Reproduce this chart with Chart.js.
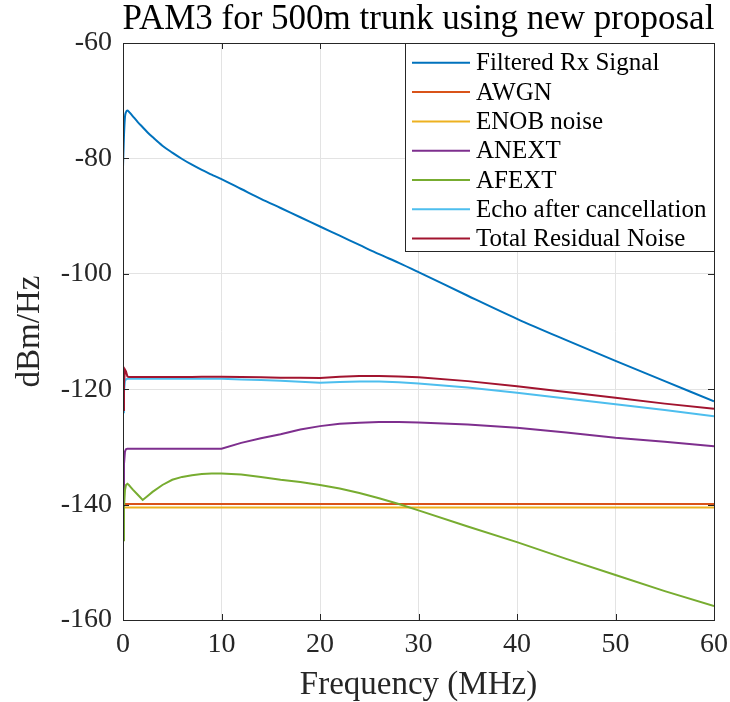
<!DOCTYPE html>
<html>
<head>
<meta charset="utf-8">
<script src="https://cdn.jsdelivr.net/npm/chart.js@4.4.1/dist/chart.umd.min.js"></script>
<style>
  html, body { margin: 0; padding: 0; background: #fff; }
  #wrap { width: 730px; height: 702px; }
</style>
</head>
<body>
<div id="wrap"><canvas id="psd-chart" width="730" height="702"></canvas></div>
<script>
// Frequency grid (MHz) shared by the curved series
const freq = [0, 0.1, 0.2, 0.3, 0.45, 0.6, 0.8, 1, 1.5, 2, 2.5, 3, 4, 5, 6, 7, 8, 9, 10,
    12, 14, 16, 18, 20, 22, 24, 26, 28, 30, 35, 40, 45, 50, 55, 60];

// PSD values in dBm/Hz
const rxSignal = [-81.5, -76.0, -72.8, -72.0, -71.7, -71.9, -72.3, -72.7, -73.7, -74.6, -75.5, -76.3, -77.8, -79.0, -80.1, -81.1, -82.0, -82.8, -83.6,
    -85.3, -87.0, -88.6, -90.2, -91.8, -93.4, -95.0, -96.6, -98.1, -99.7, -103.8, -107.8, -111.5, -115.1, -118.6, -122.1];
const anext = [-138.0, -133.0, -130.8, -130.4, -130.3, -130.3, -130.3, -130.3, -130.3, -130.3, -130.3, -130.3, -130.3, -130.3, -130.3, -130.3, -130.3, -130.3, -130.3,
    -129.3, -128.5, -127.8, -127.0, -126.4, -126.0, -125.8, -125.7, -125.7, -125.75, -126.1, -126.7, -127.5, -128.4, -129.1, -129.9];
const afext = [-146.2, -140.5, -137.5, -136.6, -136.4, -136.6, -137.0, -137.4, -138.3, -139.2, -138.5, -137.8, -136.6, -135.7, -135.2, -134.9, -134.7, -134.6, -134.6,
    -134.8, -135.2, -135.7, -136.1, -136.6, -137.2, -138.0, -138.9, -139.9, -141.0, -143.8, -146.5, -149.4, -152.2, -155.0, -157.6];
const echo = [-124.0, -120.5, -118.6, -118.3, -118.2, -118.2, -118.2, -118.2, -118.2, -118.2, -118.2, -118.2, -118.2, -118.2, -118.2, -118.2, -118.2, -118.2, -118.2,
    -118.3, -118.4, -118.55, -118.7, -118.9, -118.75, -118.65, -118.65, -118.8, -119.0, -119.7, -120.6, -121.6, -122.6, -123.6, -124.7];
const totalNoise = [-123.6, -119.0, -116.6, -116.9, -117.8, -117.9, -117.9, -117.9, -117.9, -117.9, -117.9, -117.9, -117.9, -117.9, -117.9, -117.9, -117.85, -117.85, -117.85,
    -117.9, -117.95, -118.0, -118.0, -118.05, -117.85, -117.7, -117.7, -117.8, -117.95, -118.6, -119.5, -120.5, -121.5, -122.5, -123.4];

// Flat floors only need their end points
const flatFreq = [0, 60];
const awgn = [-139.9, -139.9];
const enob = [-140.5, -140.5];

const seriesNames = ['Filtered Rx Signal', 'AWGN', 'ENOB noise', 'ANEXT', 'AFEXT', 'Echo after cancellation', 'Total Residual Noise'];
const seriesColors = ['#0072BD', '#D95319', '#EDB120', '#7E2F8E', '#77AC30', '#4DBEEE', '#A2142F'];

const xTicks = [0, 10, 20, 30, 40, 50, 60];
const yTicks = [-160, -140, -120, -100, -80, -60];

const SERIF = "'Liberation Serif', 'Times New Roman', serif";
const AXIS_COLOR = '#262626';

function toPoints(xs, ys) {
    return xs.map((x, i) => ({ x: x, y: ys[i] }));
}

const seriesData = [
    toPoints(freq, rxSignal),
    toPoints(flatFreq, awgn),
    toPoints(flatFreq, enob),
    toPoints(freq, anext),
    toPoints(freq, afext),
    toPoints(freq, echo),
    toPoints(freq, totalNoise)
];

// MATLAB-like frame: box, inward ticks, title and legend
const framePlugin = {
    id: 'frame',
    afterDraw(chart) {
        const { ctx, chartArea: a, scales } = chart;
        const xs = scales.x, ys = scales.y;
        const tick = 6;
        ctx.save();
        ctx.strokeStyle = AXIS_COLOR;
        ctx.lineWidth = 1;
        ctx.beginPath();
        xTicks.forEach(v => {
            const px = Math.round(xs.getPixelForValue(v)) + 0.5;
            ctx.moveTo(px, a.bottom); ctx.lineTo(px, a.bottom - tick);
            ctx.moveTo(px, a.top); ctx.lineTo(px, a.top + tick);
        });
        yTicks.forEach(v => {
            const py = Math.round(ys.getPixelForValue(v)) + 0.5;
            ctx.moveTo(a.left, py); ctx.lineTo(a.left + tick, py);
            ctx.moveTo(a.right, py); ctx.lineTo(a.right - tick, py);
        });
        ctx.stroke();
        ctx.strokeRect(Math.round(a.left) + 0.5, Math.round(a.top) + 0.5,
            Math.round(a.right - a.left), Math.round(a.bottom - a.top));

        // title
        ctx.fillStyle = '#000';
        ctx.font = '35px ' + SERIF;
        ctx.textAlign = 'center';
        ctx.textBaseline = 'middle';
        ctx.fillText('PAM3 for 500m trunk using new proposal', (a.left + a.right) / 2, 20);

        // legend box in the upper right corner
        const lx = 405, ly = Math.round(a.top) + 0.5, lw = Math.round(a.right) - lx, lh = 208;
        ctx.fillStyle = '#fff';
        ctx.fillRect(lx, ly, lw, lh);
        ctx.strokeStyle = AXIS_COLOR;
        ctx.strokeRect(lx + 0.5, ly, lw, lh);
        ctx.font = '25px ' + SERIF;
        ctx.textAlign = 'left';
        ctx.textBaseline = 'middle';
        seriesNames.forEach((name, i) => {
            const y = 62.8 + i * 29.3;
            ctx.strokeStyle = seriesColors[i];
            ctx.lineWidth = 2;
            ctx.beginPath();
            ctx.moveTo(412, y);
            ctx.lineTo(470, y);
            ctx.stroke();
            ctx.fillStyle = '#000';
            ctx.fillText(name, 476, y + 1);
        });
        ctx.restore();
    }
};

function getChartConfig() {
    return {
        type: 'line',
        data: {
            datasets: seriesNames.map((name, i) => ({
                label: name,
                data: seriesData[i],
                borderColor: seriesColors[i],
                backgroundColor: seriesColors[i],
                borderWidth: 2,
                pointRadius: 0,
                tension: 0,
                // only the Rx curve is smooth everywhere; the others have real kinks
                cubicInterpolationMode: i === 0 ? 'monotone' : 'default',
                fill: false,
                order: seriesNames.length - i // later series on top, like MATLAB
            }))
        },
        options: {
            responsive: false,
            animation: false,
            layout: { padding: { top: 43, right: 16, left: 0, bottom: 0 } },
            plugins: {
                legend: { display: false },
                title: { display: false },
                tooltip: { enabled: false }
            },
            scales: {
                x: {
                    type: 'linear',
                    min: 0,
                    max: 60,
                    afterFit: (s) => { s.height = 82; s.paddingLeft = 0; s.paddingRight = 0; },
                    afterBuildTicks: (s) => { s.ticks = xTicks.map(v => ({ value: v })); },
                    grid: { color: '#e3e3e3', drawTicks: false },
                    border: { display: false },
                    ticks: { color: AXIS_COLOR, padding: 8, font: { family: SERIF, size: 28 } },
                    title: {
                        display: true,
                        text: 'Frequency (MHz)',
                        color: AXIS_COLOR,
                        padding: 0,
                        font: { family: SERIF, size: 33, lineHeight: 1 }
                    }
                },
                y: {
                    min: -160,
                    max: -60,
                    afterFit: (s) => { s.width = 123; s.paddingTop = 0; s.paddingBottom = 0; },
                    afterBuildTicks: (s) => { s.ticks = yTicks.map(v => ({ value: v })); },
                    grid: { color: '#e3e3e3', drawTicks: false },
                    border: { display: false },
                    ticks: { color: AXIS_COLOR, padding: 11, font: { family: SERIF, size: 28 } },
                    title: {
                        display: true,
                        text: 'dBm/Hz',
                        color: AXIS_COLOR,
                        padding: { top: 14, bottom: 0 },
                        font: { family: SERIF, size: 33, lineHeight: 1 }
                    }
                }
            }
        },
        plugins: [framePlugin]
    };
}

const ctx = document.getElementById('psd-chart').getContext('2d');
new Chart(ctx, getChartConfig());
</script>
</body>
</html>
